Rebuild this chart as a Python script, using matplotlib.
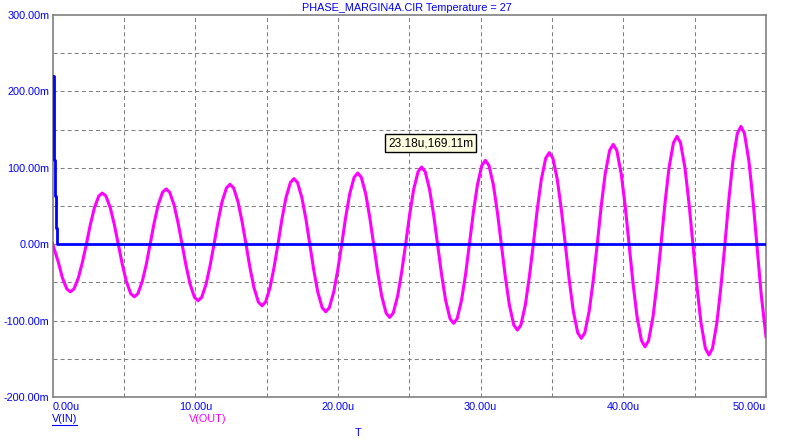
import numpy as np
import matplotlib
matplotlib.use("Agg")
import matplotlib.pyplot as plt
from matplotlib.lines import Line2D

plt.rcParams['font.family'] = ['Liberation Sans', 'DejaVu Sans']
plt.rcParams['lines.scale_dashes'] = False

# time in u (microseconds), voltage in m (millivolts)
t_out = [
    0.00, 0.40, 0.68, 0.99, 1.24, 1.49, 1.80, 2.08,
    2.36, 2.64, 2.92, 3.23, 3.48, 3.73, 4.04, 4.32,
    4.60, 4.88, 5.16, 5.47, 5.72, 5.97, 6.28, 6.56,
    6.83, 7.11, 7.39, 7.70, 7.95, 8.20, 8.51, 8.79,
    9.07, 9.35, 9.63, 9.94, 10.19, 10.44, 10.75, 11.03,
    11.31, 11.59, 11.87, 12.18, 12.43, 12.68, 12.99, 13.27,
    13.55, 13.83, 14.11, 14.42, 14.67, 14.92, 15.23, 15.51,
    15.79, 16.07, 16.35, 16.66, 16.91, 17.16, 17.47, 17.75,
    18.02, 18.30, 18.58, 18.89, 19.14, 19.39, 19.70, 19.98,
    20.26, 20.54, 20.82, 21.13, 21.38, 21.63, 21.94, 22.22,
    22.50, 22.78, 23.06, 23.37, 23.62, 23.87, 24.18, 24.46,
    24.74, 25.02, 25.30, 25.61, 25.86, 26.11, 26.42, 26.70,
    26.98, 27.26, 27.54, 27.85, 28.10, 28.35, 28.66, 28.94,
    29.21, 29.49, 29.77, 30.08, 30.33, 30.58, 30.89, 31.17,
    31.45, 31.73, 32.01, 32.32, 32.57, 32.82, 33.13, 33.41,
    33.69, 33.97, 34.25, 34.56, 34.81, 35.06, 35.37, 35.65,
    35.93, 36.21, 36.49, 36.80, 37.05, 37.30, 37.61, 37.89,
    38.17, 38.45, 38.73, 39.04, 39.29, 39.54, 39.85, 40.13,
    40.40, 40.68, 40.96, 41.27, 41.52, 41.77, 42.08, 42.36,
    42.64, 42.92, 43.20, 43.51, 43.76, 44.01, 44.32, 44.60,
    44.88, 45.16, 45.44, 45.75, 46.00, 46.25, 46.56, 46.84,
    47.12, 47.40, 47.68, 47.99, 48.24, 48.49, 48.80, 49.08,
    49.36, 49.67, 50.00]

v_out = [
    0.0, -23.9, -44.0, -58.6, -62.3, -58.6, -44.0, -23.9,
    0.0, 25.7, 47.4, 63.0, 67.0, 63.0, 47.4, 25.7,
    0.0, -26.4, -48.6, -64.7, -68.8, -64.7, -48.6, -26.4,
    0.0, 27.7, 51.1, 68.0, 72.3, 68.0, 51.1, 27.7,
    0.0, -28.3, -52.3, -69.6, -74.0, -69.6, -52.3, -28.3,
    0.0, 30.0, 55.4, 73.7, 78.4, 73.7, 55.4, 30.0,
    0.0, -30.9, -57.0, -75.8, -80.6, -75.8, -57.0, -30.9,
    0.0, 32.9, 60.7, 80.7, 85.8, 80.7, 60.7, 32.9,
    0.0, -33.9, -62.5, -83.1, -88.4, -83.1, -62.5, -33.9,
    0.0, 35.7, 65.9, 87.6, 93.2, 87.6, 65.9, 35.7,
    0.0, -36.7, -67.7, -90.1, -95.8, -90.1, -67.7, -36.7,
    0.0, 38.7, 71.4, 94.9, 101.0, 94.9, 71.4, 38.7,
    0.0, -39.7, -73.2, -97.4, -103.6, -97.4, -73.2, -39.7,
    0.0, 42.0, 77.6, 103.1, 109.7, 103.1, 77.6, 42.0,
    0.0, -43.0, -79.5, -105.7, -112.4, -105.7, -79.5, -43.0,
    0.0, 45.9, 84.7, 112.6, 119.8, 112.6, 84.7, 45.9,
    0.0, -47.2, -87.1, -115.8, -123.2, -115.8, -87.1, -47.2,
    0.0, 50.0, 92.3, 122.8, 130.6, 122.8, 92.3, 50.0,
    0.0, -51.4, -94.9, -126.1, -134.2, -126.1, -94.9, -51.4,
    0.0, 54.0, 99.8, 132.6, 141.1, 132.6, 99.8, 54.0,
    0.0, -55.5, -102.5, -136.3, -145.0, -136.3, -102.5, -55.5,
    0.0, 59.1, 109.0, 145.0, 154.2, 145.0, 109.0, 59.1,
    0.0, -67.0, -121.0]

t_in = [0.0, 0.07, 0.14, 0.21, 0.30, 50.0]
v_in = [220.0, 110.0, 63.0, 21.0, 0.0, 0.0]

x_ticks = [0, 10, 20, 30, 40, 50]
y_ticks = [-200, -100, 0, 100, 200, 300]
x_grid = [5, 10, 15, 20, 25, 30, 35, 40, 45]
y_grid = [-150, -100, -50, 0, 50, 100, 150, 200, 250]

title = "PHASE_MARGIN4A.CIR Temperature = 27"
cursor_label = "23.18u,169.11m"

blue = '#0000FF'
magenta = '#FF00FF'
gray = '#808080'
W, H = 796, 445

fig = plt.figure(figsize=(W / 100, H / 100), dpi=100)
fig.patch.set_facecolor('white')
ax = fig.add_axes([52.7 / W, 48 / H, 713.3 / W, 382 / H])
ax.set_xlim(0, 50)
ax.set_ylim(-200, 300)

# dashed grid
for gx in x_grid:
    ax.axvline(gx, color=gray, lw=0.75, dashes=(2.9, 2.2), zorder=1)
for gy in y_grid:
    ax.axhline(gy, color=gray, lw=0.75, dashes=(2.9, 2.2), zorder=1)

ax.plot(t_out, v_out, color=magenta, lw=2.2, zorder=3, solid_joinstyle='round')
ax.plot(t_in, v_in, color=blue, lw=2.0, drawstyle='steps-post', zorder=4)

for s in ax.spines.values():
    s.set_color(gray)
    s.set_linewidth(1.2)

ax.set_xticks(x_ticks)
ax.set_xticklabels([f"{v:.2f}u" for v in x_ticks])
ax.set_yticks(y_ticks)
ax.set_yticklabels([f"{v:.2f}m" for v in y_ticks])
ax.tick_params(length=0, labelsize=7.8, labelcolor=blue)
ax.tick_params(axis='x', pad=3.5)
ax.tick_params(axis='y', pad=2.5)
xl = ax.get_xticklabels()
xl[0].set_ha('left')
xl[-1].set_ha('right')

ax.text(26.5, 132, cursor_label, ha='center', va='center', fontsize=8.6,
        color='black', zorder=6,
        bbox=dict(boxstyle='square,pad=0.25', fc='#FFFFE1', ec='black', lw=1.0))

fig.text(407 / W, 1 - 8 / H, title, ha='center', va='center', fontsize=7.8, color=blue)
fig.text(52 / W, 1 - 419 / H, "V(IN)", ha='left', va='center', fontsize=7.8, color=blue)
fig.lines.append(Line2D([52 / W, 77 / W], [1 - 424.5 / H, 1 - 424.5 / H],
                        transform=fig.transFigure, color=blue, lw=0.8))
fig.text(189 / W, 1 - 419 / H, "V(OUT)", ha='left', va='center', fontsize=7.8, color=magenta)
fig.text(358 / W, 1 - 433 / H, "T", ha='center', va='center', fontsize=7.8, color=blue)

fig.savefig("out.png", dpi=100)
